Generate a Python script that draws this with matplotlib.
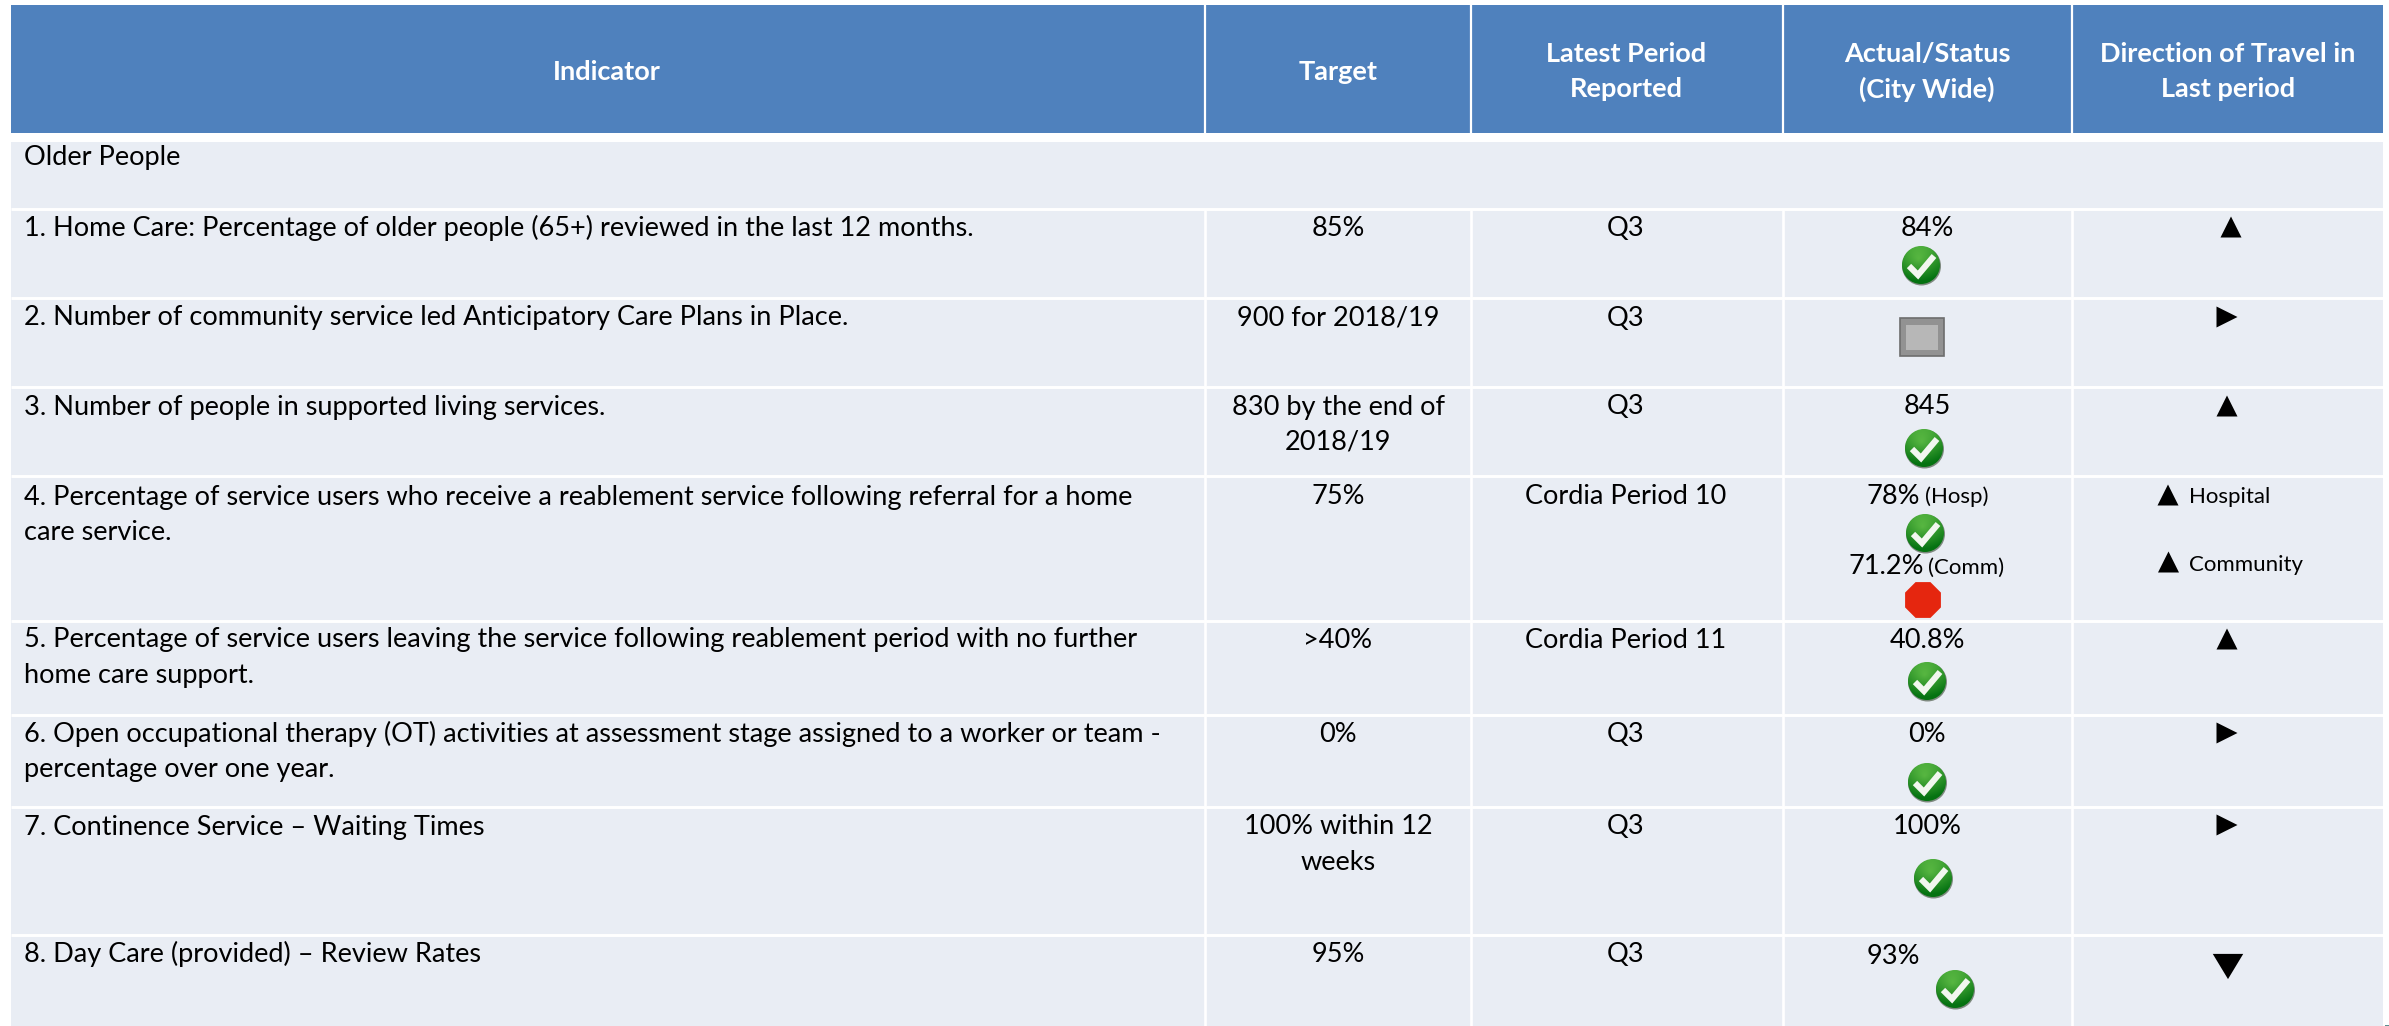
"""
plot.py

Older People indicator table drawn with matplotlib.
"""

import numpy as np
import matplotlib

matplotlib.use("Agg")
import matplotlib.pyplot as plt
from matplotlib.patches import Circle, Polygon, Rectangle

# table content
headers = ["Indicator", "Target", "Latest Period\nReported", "Actual/Status\n(City Wide)",
           "Direction of Travel in\nLast period"]
section = "Older People"
indicators = [
    "1. Home Care: Percentage of older people (65+) reviewed in the last 12 months.",
    "2. Number of community service led Anticipatory Care Plans in Place.",
    "3. Number of people in supported living services.",
    "4. Percentage of service users who receive a reablement service following referral for a home\ncare service.",
    "5. Percentage of service users leaving the service following reablement period with no further\nhome care support.",
    "6. Open occupational therapy (OT) activities at assessment stage assigned to a worker or team -\npercentage over one year.",
    "7. Continence Service \u2013 Waiting Times",
    "8. Day Care (provided) \u2013 Review Rates",
]
targets = ["85%", "900 for 2018/19", "830 by the end of\n2018/19", "75%", ">40%", "0%",
           "100% within 12\nweeks", "95%"]
periods = ["Q3", "Q3", "Q3", "Cordia Period 10", "Cordia Period 11", "Q3", "Q3", "Q3"]
actuals = ["84%", "", "845", "", "40.8%", "0%", "100%", "93%"]
statuses = ["green", "grey", "green", "green", "green", "green", "green"]
directions = ["up", "right", "up", "up", "right", "right", "down"]

# layout in reference pixels
WIDTH, HEIGHT = 2389, 1026
LEFT, RIGHT, TOP = 11, 2383, 5
HEAD_BOTTOM, BODY_TOP = 133, 142
COL_LINES = [1205, 1471, 1782.5, 2071.5]
ROW_LINES = [208.5, 298, 387, 476, 620.5, 714.5, 807, 934.5]
COL_CENTERS = [607, 1338, 1626, 1927, 2228]
ROW_TEXT_Y = [227, 317, 406, 496, 639, 733, 826, 953]
LINE_STEP = 35
TEXT_X = 24
FONT = "Lato"
FONT_SIZE = 19.5
SMALL_SIZE = 16

STATUS_XY = [(1921, 265), (1922, 337), (1924, 448), (1925, 533), (1927, 681), (1927, 782),
             (1933, 878)]
ARROW_XY = [(2231, 227), (2227, 317), (2227, 406), (2227, 639), (2227, 733), (2227, 825)]

HEADER_BLUE = "#4f81bd"
ROW_BLUE = "#e9edf4"


def put_text(ax, x, y, text, size=FONT_SIZE, ha="center", **kwargs):
    # one text per line so the line step can follow the reference
    for i, line in enumerate(text.split("\n")):
        ax.text(x, y + 1 + i * LINE_STEP, line, family=FONT, fontsize=size, ha=ha, va="center",
                color=kwargs.get("color", "black"), fontweight=kwargs.get("fontweight", "normal"))


def draw_arrow(ax, x, y, kind, half=10.5):
    shapes = {
        "up": [(-half, half), (half, half), (0, -half)],
        "down": [(-half * 1.45, -half * 1.2), (half * 1.45, -half * 1.2), (0, half * 1.2)],
        "right": [(-half, -half), (-half, half), (half, 0)],
    }
    pts = [(x + dx, y + dy) for dx, dy in shapes[kind]]
    ax.add_patch(Polygon(pts, closed=True, facecolor="black", edgecolor="none", zorder=4))


def draw_check(ax, x, y, r=19.5):
    ax.add_patch(Circle((x + 0.5, y + 1), r, facecolor="#7f8a80", edgecolor="none", zorder=3))
    # vertical and radial shading, light at the top left
    yy, xx = np.mgrid[-1:1:80j, -1:1:80j]
    shade = np.clip(0.55 * (yy + 1) / 2 + 0.6 * np.hypot(xx + 0.15, yy + 0.3) / 1.4, 0, 1)
    light = np.array([0.42, 0.78, 0.30])
    dark = np.array([0.02, 0.45, 0.07])
    rgb = light + (dark - light) * shade[..., None]
    im = ax.imshow(rgb, extent=(x - r, x + r, y + r, y - r), aspect="auto", zorder=4,
                   interpolation="bilinear")
    im.set_clip_path(Circle((x, y), r - 0.5, transform=ax.transData))
    ax.plot([x - 12, x - 3, x + 13], [y + 1, y + 10, y - 9], color="#f2f7ef", lw=4.4,
            solid_capstyle="butt", solid_joinstyle="miter", zorder=5)


def draw_stop(ax, x, y, r=19):
    angles = np.deg2rad(np.arange(22.5, 360, 45))
    pts = np.column_stack([x + r * np.cos(angles) * 1.02, y + r * np.sin(angles) * 1.02])
    ax.add_patch(Polygon(pts, closed=True, facecolor="#e5260f", edgecolor="none", zorder=4))


def draw_grey(ax, x, y):
    ax.add_patch(Rectangle((x - 22, y - 19), 44, 38, facecolor="#929292", edgecolor="#6d6d6d",
                           lw=1.2, zorder=4))
    ax.add_patch(Rectangle((x - 16, y - 12), 32, 25, facecolor="#b7b7b7", edgecolor="none",
                           zorder=5))


fig = plt.figure(figsize=(WIDTH / 100, HEIGHT / 100), dpi=100)
ax = fig.add_axes([0, 0, 1, 1])

# table backgrounds and white rules
ax.add_patch(Rectangle((LEFT, TOP), RIGHT - LEFT, HEAD_BOTTOM - TOP, facecolor=HEADER_BLUE,
                       edgecolor="none"))
ax.add_patch(Rectangle((LEFT, BODY_TOP), RIGHT - LEFT, HEIGHT - BODY_TOP, facecolor=ROW_BLUE,
                       edgecolor="none"))
ax.vlines(COL_LINES, TOP, HEAD_BOTTOM, color="white", lw=1.6, zorder=2)
ax.vlines(COL_LINES, ROW_LINES[0], HEIGHT, color="white", lw=1.9, zorder=2)
ax.hlines(ROW_LINES, LEFT, RIGHT, color="white", lw=2.1, zorder=2)
ax.add_patch(Rectangle((2385, 1025), 4, 1, facecolor="#5b8f8f", edgecolor="none"))

# header row
for x, label in zip(COL_CENTERS, headers):
    y = 71 if "\n" not in label else 53
    put_text(ax, x, y, label, color="white", fontweight="bold")

# body text
put_text(ax, TEXT_X, 156, section, ha="left")
for y, ind, target, period, actual in zip(ROW_TEXT_Y, indicators, targets, periods, actuals):
    put_text(ax, TEXT_X, y, ind, ha="left")
    put_text(ax, COL_CENTERS[1], y, target)
    put_text(ax, COL_CENTERS[2], y, period)
    # the last actual sits left of its cell
    if actual == "93%":
        put_text(ax, 1893, y + 3, actual)
    elif actual:
        put_text(ax, COL_CENTERS[3], y, actual)

# row 4 carries two values, one per setting
put_text(ax, 1867, 495, "78%", ha="left")
put_text(ax, 1925, 496, "(Hosp)", size=SMALL_SIZE, ha="left")
put_text(ax, 1849, 565, "71.2%", ha="left")
put_text(ax, 1928, 567, "(Comm)", size=SMALL_SIZE, ha="left")
put_text(ax, 2189, 496, "Hospital", size=SMALL_SIZE, ha="left")
put_text(ax, 2189, 564, "Community", size=SMALL_SIZE, ha="left")

# status icons
for (x, y), status in zip(STATUS_XY, statuses):
    if status == "green":
        draw_check(ax, x, y)
    else:
        draw_grey(ax, x, y)
draw_stop(ax, 1923, 600)
draw_check(ax, 1955, 989)

# direction arrows
for (x, y), kind in zip(ARROW_XY, directions):
    draw_arrow(ax, x, y, kind)
draw_arrow(ax, 2168, 495, "up")
draw_arrow(ax, 2168.5, 562, "up")
draw_arrow(ax, 2228, 966.5, "down")

ax.set_xlim(0, WIDTH)
ax.set_ylim(HEIGHT, 0)
ax.axis("off")

fig.savefig("out.png", dpi=100)
plt.close(fig)
